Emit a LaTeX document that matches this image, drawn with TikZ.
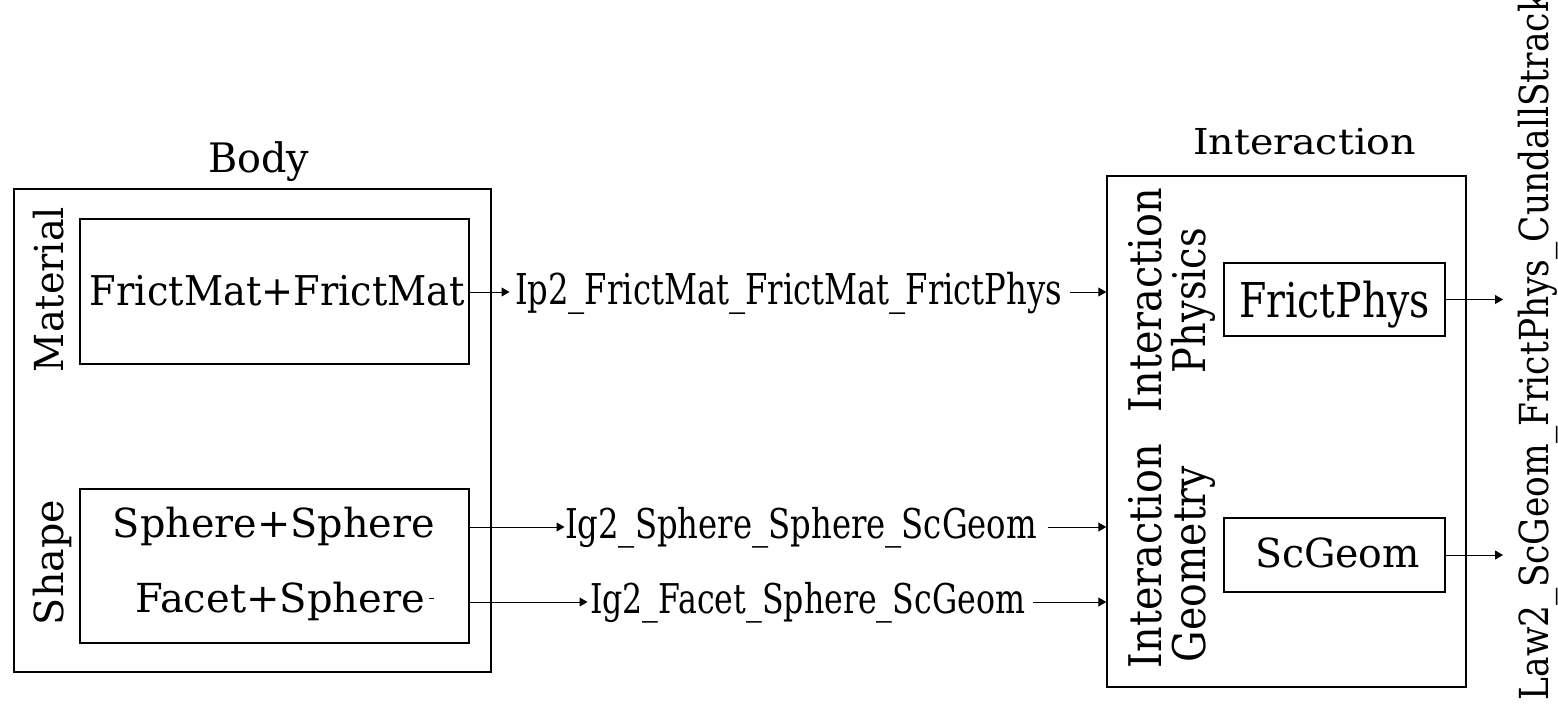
\documentclass[tikz,border=0pt]{standalone}
\usepackage{fontspec}
\setmainfont{DejaVu Serif}
\usepackage{graphicx}
\usetikzlibrary{arrows.meta}
\newcommand{\fitw}[3]{{\fontsize{#1}{#1}\selectfont\resizebox{#2}{\height}{#3}}}
\begin{document}
\begin{tikzpicture}[x=1pt,y=1pt,line width=1pt,>={Triangle[length=8pt,width=9pt]},
box/.style={draw,rectangle,inner sep=0pt,line width=1.4pt},
txt/.style={inner sep=0pt,anchor=base},
vtxt/.style={txt,rotate=90}]
\useasboundingbox (0,0) rectangle (1558,-724);
% body
\node[box,minimum width=477,minimum height=483] (body) at (252.5,-430.5) {};
\node[txt] (bodyt) at (258.5,-172) {\fitw{40.6pt}{101pt}{Body}};
\node[box,minimum width=389,minimum height=145] (matbox) at (274.5,-291.5) {};
\node[vtxt] (mat) at (63,-289.5) {\fitw{40pt}{165pt}{Material}};
\node[txt] (ff) at (277.5,-305) {\fitw{41pt}{375pt}{FrictMat+FrictMat}};
\node[box,minimum width=389,minimum height=154] (shapebox) at (274.5,-566) {};
\node[vtxt] (shape) at (63,-562.5) {\fitw{40pt}{125pt}{Shape}};
\node[txt] (ss) at (274,-537) {\fitw{40pt}{322pt}{Sphere+Sphere}};
\node[txt] (fs) at (280,-612) {\fitw{40pt}{290pt}{Facet+Sphere}};
\draw (429,-598) -- (434,-598);
% functors
\node[txt] (ip2) at (788.5,-304) {\fitw{42.5pt}{547pt}{Ip2\_FrictMat\_FrictMat\_FrictPhys}};
\node[txt] (ig2ss) at (801,-538) {\fitw{41pt}{472pt}{Ig2\_Sphere\_Sphere\_ScGeom}};
\node[txt] (ig2fs) at (807.5,-613) {\fitw{41pt}{435pt}{Ig2\_Facet\_Sphere\_ScGeom}};
% interaction
\node[box,minimum width=359,minimum height=511] (inter) at (1286.5,-431.5) {};
\node[txt] (intert) at (1304.5,-154) {\fitw{35.7pt}{223pt}{Interaction}};
\node[vtxt] (iphys1) at (1161,-300) {\fitw{45pt}{224pt}{Interaction}};
\node[vtxt] (iphys2) at (1205,-300.5) {\fitw{45pt}{145pt}{Physics}};
\node[vtxt] (igeom1) at (1161,-556) {\fitw{45pt}{224pt}{Interaction}};
\node[vtxt] (igeom2) at (1205,-564) {\fitw{45pt}{196pt}{Geometry}};
\node[box,minimum width=221,minimum height=73] (fpbox) at (1334.5,-299.5) {};
\node[txt] (fp) at (1334.5,-317) {\fitw{48pt}{191pt}{FrictPhys}};
\node[box,minimum width=221,minimum height=74] (scbox) at (1334.5,-555) {};
\node[txt] (sc) at (1337.5,-567) {\fitw{40pt}{165pt}{ScGeom}};
\node[vtxt] (law2) at (1548,-346) {\fitw{40pt}{708pt}{Law2\_ScGeom\_FrictPhys\_CundallStrack}};
% arrows
\coordinate (rowfm) at (0,-292);
\coordinate (rowss) at (0,-527);
\coordinate (rowfs) at (0,-602);
\coordinate (lawin) at (1503,0);
\draw[->,shorten >=5pt] (matbox.east |- rowfm) -- (rowfm -| ip2.west);
\draw[->,shorten <=7pt] (ip2.east |- rowfm) -- (rowfm -| inter.west);
\draw[->] (shapebox.east |- rowss) -- (rowss -| ig2ss.west);
\draw[->,shorten <=10pt] (ig2ss.east |- rowss) -- (rowss -| inter.west);
\draw[->,shorten >=2pt] (shapebox.east |- rowfs) -- (rowfs -| ig2fs.west);
\draw[->,shorten <=7pt] (ig2fs.east |- rowfs) -- (rowfs -| inter.west);
\draw[->] (fpbox.east) -- (fpbox.east -| lawin);
\draw[->] (scbox.east) -- (scbox.east -| lawin);
\end{tikzpicture}
\end{document}
